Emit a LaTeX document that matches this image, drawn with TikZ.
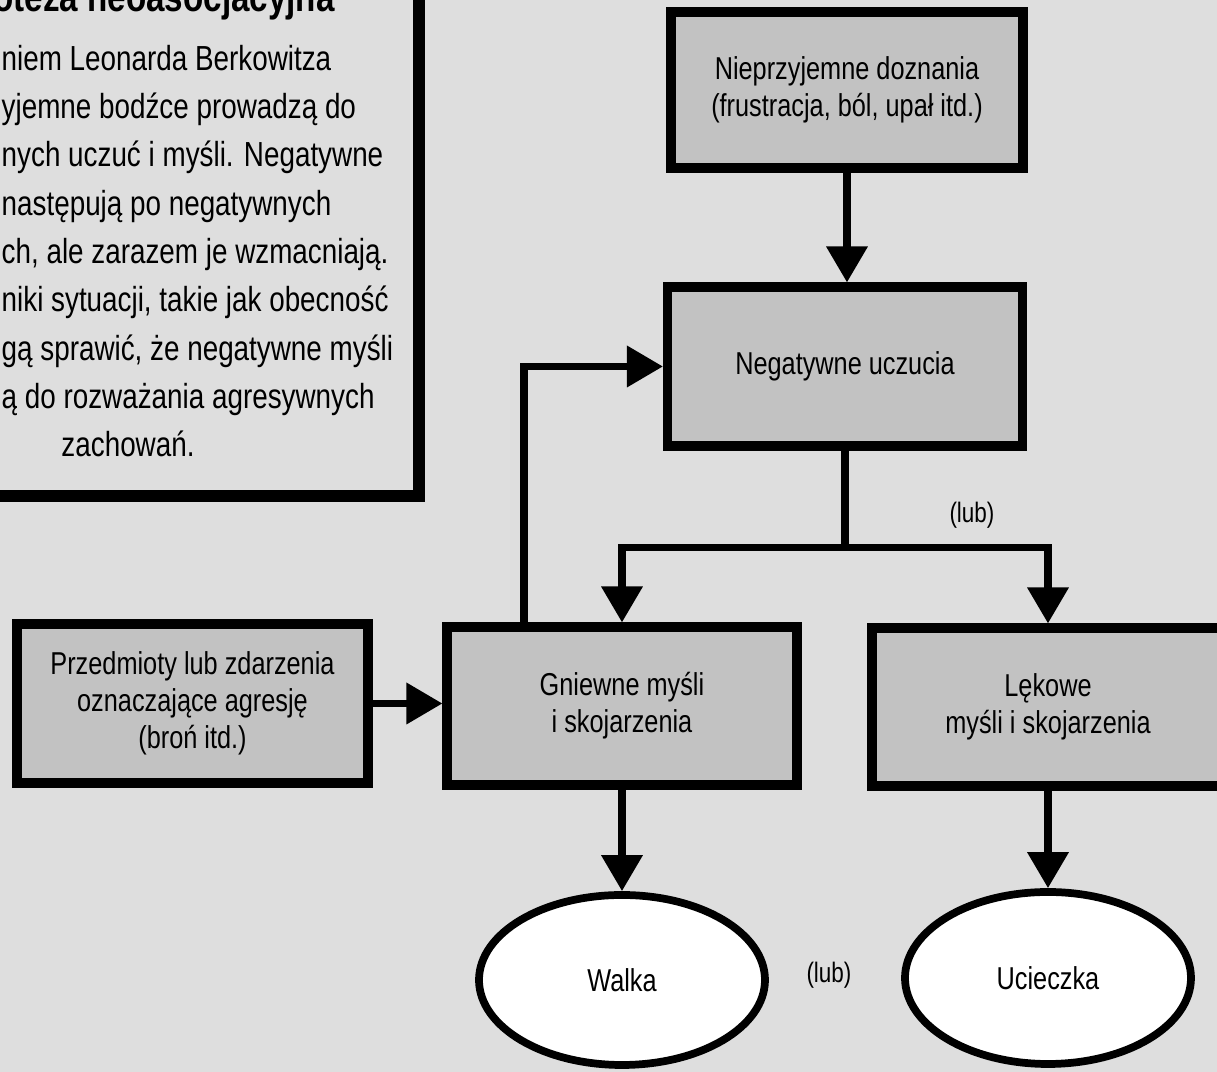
\documentclass[tikz,border=0pt]{standalone}
\usepackage{fontspec}
\setmainfont{Liberation Sans}[FakeStretch=0.8]
\usetikzlibrary{arrows.meta,shapes.geometric}
\definecolor{tlo}{gray}{0.87}
\definecolor{szary}{gray}{0.76}

\begin{document}
\begin{tikzpicture}[
    box/.style={draw, line width=2.6pt, fill=szary, minimum width=3.5cm, minimum height=1.58cm, align=center, font=\fontsize{9}{10.5}\selectfont},
    oval/.style={ellipse, draw, line width=2.2pt, fill=white, minimum width=2.86cm, minimum height=1.7cm, font=\fontsize{9}{10.5}\selectfont},
    flow/.style={line width=2pt, -{Triangle[length=3.6mm,width=4mm]}},
    lub/.style={font=\fontsize{8}{9}\selectfont},
    opis/.style={anchor=base west, inner xsep=0pt, font=\fontsize{9.9}{13.7}\selectfont}
]
\useasboundingbox (0,0) rectangle (12.17,-10.72);
\clip (0,0) rectangle (12.17,-10.72);
\fill[tlo] (0,0) rectangle (12.17,-10.72);

% ramka z opisem, ucieta na brzegu
\draw[line width=3.5pt] (-2,1) rectangle (4.19,-4.96);
\node[anchor=base east, font=\bfseries\fontsize{11.8}{13}\selectfont] (tytul) at (3.47,-0.12) {Hipoteza neoasocjacyjna};
\node[opis] (l1) at (0.01,-0.71) {niem Leonarda Berkowitza};
\node[opis] (l2) at (0.01,-1.19) {yjemne bodźce prowadzą do};
\node[opis] (l3) at (0.01,-1.67) {nych uczuć i myśli. Negatywne};
\node[opis] (l4) at (0.01,-2.16) {następują po negatywnych};
\node[opis] (l5) at (0.01,-2.64) {ch, ale zarazem je wzmacniają.};
\node[opis] (l6) at (0.01,-3.12) {niki sytuacji, takie jak obecność};
\node[opis] (l7) at (0.01,-3.61) {gą sprawić, że negatywne myśli};
\node[opis] (l8) at (0.01,-4.09) {ą do rozważania agresywnych};
\node[opis, anchor=base] (l9) at (1.28,-4.57) {zachowań.};

% schemat
\node[box, minimum width=3.52cm, minimum height=1.56cm] (dozn) at (8.47,-0.90) {Nieprzyjemne doznania\\(frustracja, ból, upał itd.)};
\node[box, minimum width=3.55cm, minimum height=1.59cm] (neg) at (8.45,-3.665) {Negatywne uczucia};
\node[box] (gniew) at (6.22,-7.06) {Gniewne myśli\\i skojarzenia};
\node[box, minimum width=3.52cm] (lek) at (10.48,-7.07) {Lękowe\\myśli i skojarzenia};
\node[box, minimum width=3.51cm, minimum height=1.59cm] (przed) at (1.925,-7.035) {Przedmioty lub zdarzenia\\oznaczające agresję\\(broń itd.)};
\node[oval] (walka) at (6.22,-9.80) {Walka};
\node[oval, minimum height=1.72cm] (ucie) at (10.48,-9.78) {Ucieczka};
\node[lub] (lub1) at (9.72,-5.15) {(lub)};
\node[lub] (lub2) at (8.29,-9.75) {(lub)};

\draw[flow] (dozn.south) -- (dozn.south |- neg.north);
\draw[line width=2pt] (neg.south) -- ++(0,-0.97) coordinate (rozw);
\draw[flow] (rozw) -| (gniew.north);
\draw[flow] (rozw) -| (lek.north);
\draw[flow] ([xshift=-0.98cm]gniew.north) |- (neg.west);
\draw[flow] (przed.east) -- (przed.east -| gniew.west);
\draw[flow] (gniew.south) -- (walka.north);
\draw[flow] (lek.south) -- (ucie.north);
\end{tikzpicture}
\end{document}
